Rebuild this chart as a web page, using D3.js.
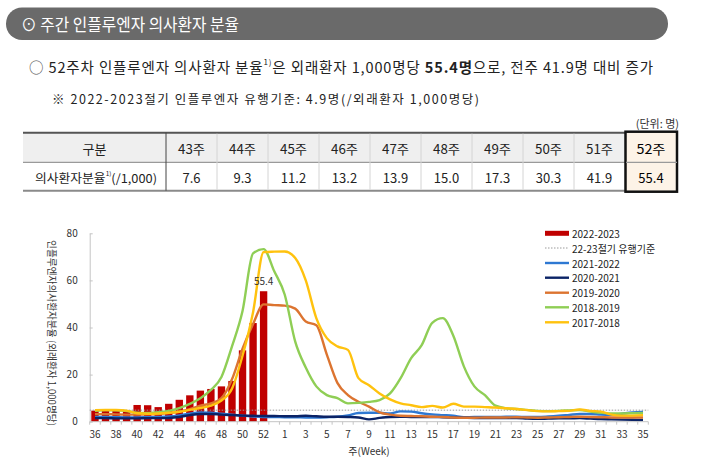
<!DOCTYPE html>
<html>
<head>
<meta charset="utf-8">
<script src="https://cdn.jsdelivr.net/npm/d3@7"></script>
<style>
  html, body { margin: 0; padding: 0; background: #ffffff; }
  svg { display: block; }
  text { font-family: "Noto Sans CJK KR", "Noto Sans", sans-serif; white-space: pre; }
</style>
</head>
<body>
<svg id="chart" width="719" height="472"></svg>
<script>
// ---------------- data ----------------
const weeks = ["36","37","38","39","40","41","42","43","44","45","46","47","48","49","50","51","52","53",
  "1","2","3","4","5","6","7","8","9","10","11","12","13","14","15","16","17","18","19","20",
  "21","22","23","24","25","26","27","28","29","30","31","32","33","34","35"];
const xTickLabels = ["36","38","40","42","44","46","48","50","52","1","3","5","7","9","11","13","15",
  "17","19","21","23","25","27","29","31","33","35"];
const yTicks = [0, 20, 40, 60, 80];

const barWeeks = ["36","37","38","39","40","41","42","43","44","45","46","47","48","49","50","51","52"];
const s2223 = [4.7, 4.9, 4.8, 4.7, 7.1, 7.0, 6.2, 7.6, 9.3, 11.2, 13.2, 13.9, 15.0, 17.3, 30.3, 41.9, 55.4];
const threshold = 4.9;

const s2122 = [2.0,2.0,1.9,1.8,1.8,1.9,2.0,2.2,2.7,3.4,3.9,3.8,3.4,3.0,2.6,2.2,2.0,2.0,
  1.9,1.9,1.8,1.8,1.9,2.1,2.7,3.7,3.8,3.8,3.5,4.4,4.3,3.6,3.1,2.8,2.5,1.9,2.0,2.0,
  2.0,2.1,2.1,2.0,2.0,2.2,2.5,2.9,3.3,3.3,3.0,2.9,3.4,3.9,4.1];
const s2021 = [1.5,1.5,1.4,1.4,1.4,1.5,1.5,1.6,2.0,2.8,3.3,3.3,3.0,2.8,2.6,2.5,2.4,2.4,
  2.3,2.3,2.5,2.3,2.1,2.1,2.0,1.8,1.0,1.6,2.0,2.1,2.0,2.0,2.0,1.9,1.8,1.7,1.6,1.6,
  1.5,1.5,1.5,1.3,1.2,1.3,1.4,1.4,1.5,1.3,1.1,1.0,0.9,0.8,0.7];
const s1920 = [3.2,3.2,3.1,3.0,3.0,3.1,3.3,3.7,4.3,5.3,6.8,7.8,10.0,18.0,31.0,41.5,49.8,49.5,
  49.3,48.0,42.5,41.0,28.5,16.5,11.3,8.5,6.4,4.0,3.0,2.5,2.4,2.3,2.1,2.0,1.8,1.7,1.7,1.8,
  1.8,1.8,1.9,1.8,1.7,1.8,1.9,2.0,2.1,2.0,1.9,1.8,1.8,1.8,1.8];
const s1819 = [4.6,4.9,4.8,4.5,3.8,3.7,4.0,4.6,5.8,7.6,10.0,13.5,19.0,32.0,47.0,71.5,73.3,64.0,
  54.0,34.0,23.0,15.0,11.3,10.0,7.8,8.0,8.4,9.2,12.0,18.5,27.0,32.5,42.0,44.0,36.5,23.5,15.0,11.3,
  6.8,5.7,5.4,5.0,4.6,4.5,4.6,4.8,5.0,4.3,3.8,3.5,3.5,3.6,3.7];
const s1718 = [4.9,5.0,5.0,4.7,3.6,3.4,3.5,3.8,4.2,5.0,5.8,6.8,9.0,14.0,28.0,46.5,72.0,72.2,
  72.3,69.5,60.0,44.0,35.5,32.0,30.5,18.5,15.5,12.0,9.5,7.8,7.0,6.2,6.7,6.0,7.6,6.4,6.4,6.2,
  6.0,5.7,5.4,4.9,4.5,4.4,4.5,4.6,5.2,4.6,4.3,3.0,2.6,2.6,2.8];

const legendLabels = ["2022-2023","22-23절기 유행기준","2021-2022","2020-2021","2019-2020","2018-2019","2017-2018"];

const tableWeeks = ["43주","44주","45주","46주","47주","48주","49주","50주","51주","52주"];
const tableValues = [7.6, 9.3, 11.2, 13.2, 13.9, 15.0, 17.3, 30.3, 41.9, 55.4];

// ---------------- drawing ----------------
const svg = d3.select("#chart");

// header bar
svg.append("rect").attr("x", 6).attr("y", 7.5).attr("width", 662).attr("height", 32.5)
  .attr("rx", 16).attr("fill", "#6a6a6a");
svg.append("text").attr("x", 21).attr("y", 23.7).attr("dominant-baseline", "central")
  .attr("font-size", 16.5).attr("fill", "#ffffff")
  .attr("textLength", 218).attr("lengthAdjust", "spacingAndGlyphs")
  .text("⊙ 주간 인플루엔자 의사환자 분율");

// line 1
const l1 = svg.append("text").attr("x", 29).attr("y", 65.7).attr("dominant-baseline", "central")
  .attr("font-size", 14.5).attr("fill", "#222").attr("textLength", 624).attr("lengthAdjust", "spacing");
l1.append("tspan").attr("fill", "#555").text("○");
l1.append("tspan").text(" 52주차 인플루엔자 의사환자 분율");
l1.append("tspan").attr("font-size", 8).attr("dy", -5).text("1)");
l1.append("tspan").attr("dy", 5).text("은 외래환자 1,000명당 ");
l1.append("tspan").attr("font-weight", "bold").text("55.4명");
l1.append("tspan").text("으로, 전주 41.9명 대비 증가");

// line 2
svg.append("text").attr("x", 52).attr("y", 98.5).attr("dominant-baseline", "central")
  .attr("font-size", 12.5).attr("fill", "#222").attr("textLength", 427).attr("lengthAdjust", "spacing")
  .text("※ 2022-2023절기 인플루엔자 유행기준: 4.9명(/외래환자 1,000명당)");

// unit
svg.append("text").attr("x", 679).attr("y", 123).attr("dominant-baseline", "central")
  .attr("text-anchor", "end").attr("font-size", 11).attr("fill", "#333").text("(단위: 명)");

// ---------------- table ----------------
const tLeft = 23, tFirst = 166, tColW = 51, tRight = 677;
const tTop = 132.7, tMid = 162.3, tBot = 190.7;
const tbl = svg.append("g");
tbl.append("rect").attr("x", tLeft).attr("y", tTop).attr("width", tFirst + 9 * tColW - tLeft)
  .attr("height", tMid - tTop).attr("fill", "#efefef");
tbl.append("line").attr("x1", tLeft).attr("x2", tRight).attr("y1", tTop).attr("y2", tTop)
  .attr("stroke", "#555").attr("stroke-width", 2);
tbl.append("line").attr("x1", tLeft).attr("x2", tRight).attr("y1", tMid).attr("y2", tMid)
  .attr("stroke", "#9a9a9a").attr("stroke-width", 1.3);
tbl.append("line").attr("x1", tLeft).attr("x2", tRight).attr("y1", tBot).attr("y2", tBot)
  .attr("stroke", "#8a8a8a").attr("stroke-width", 2);
tbl.append("line").attr("x1", tFirst).attr("x2", tFirst).attr("y1", tTop).attr("y2", tBot)
  .attr("stroke", "#444").attr("stroke-width", 1);
d3.range(1, 9).forEach(k => {
  tbl.append("line").attr("x1", tFirst + k * tColW).attr("x2", tFirst + k * tColW)
    .attr("y1", tTop + 1).attr("y2", tBot - 1).attr("stroke", "#d4d4d4").attr("stroke-width", 1);
});
// highlighted column 52
const hx = tFirst + 9 * tColW;
tbl.append("rect").attr("x", hx + 0.5).attr("y", tTop - 1).attr("width", tRight - hx - 0.5)
  .attr("height", tBot - tTop + 2).attr("fill", "#fdf3e7").attr("stroke", "#111").attr("stroke-width", 2.5);
tbl.append("line").attr("x1", hx + 1).attr("x2", tRight).attr("y1", tMid).attr("y2", tMid)
  .attr("stroke", "#9a9a9a").attr("stroke-width", 1.3);

const hy = (tTop + tMid) / 2 + 0.5, dy2 = (tMid + tBot) / 2 + 0.5;
tbl.append("text").attr("x", (tLeft + tFirst) / 2).attr("y", hy).attr("text-anchor", "middle")
  .attr("dominant-baseline", "central").attr("font-size", 13).attr("fill", "#222").text("구분");
const rl = tbl.append("text").attr("x", 35).attr("y", dy2).attr("dominant-baseline", "central")
  .attr("font-size", 12).attr("fill", "#222").attr("textLength", 122).attr("lengthAdjust", "spacingAndGlyphs");
rl.append("tspan").text("의사환자분율");
rl.append("tspan").attr("font-size", 6).attr("dy", -4).text("1)");
rl.append("tspan").attr("dy", 4).text("(/1,000)");

tableWeeks.forEach((w, i) => {
  const cx = i < 9 ? tFirst + tColW * (i + 0.5) : (hx + tRight) / 2;
  tbl.append("text").attr("x", cx).attr("y", hy).attr("text-anchor", "middle")
    .attr("dominant-baseline", "central").attr("font-size", 13).attr("fill", i < 9 ? "#222" : "#000")
    .attr("textLength", i < 9 ? 27 : 29).attr("lengthAdjust", "spacingAndGlyphs").text(w);
  tbl.append("text").attr("x", cx).attr("y", dy2).attr("text-anchor", "middle")
    .attr("dominant-baseline", "central").attr("font-size", 13).attr("fill", i < 9 ? "#222" : "#000")
    .text(tableValues[i].toFixed(1));
});

// ---------------- chart ----------------
const x = d3.scaleBand().domain(weeks).range([89.7, 648.3]).paddingInner(0.3).paddingOuter(0.15);
const cx = w => x(w) + x.bandwidth() / 2;
const y = d3.scaleLinear().domain([0, 80]).range([421.7, 233.3]);
const chart = svg.append("g");

// y axis
const yAxis = d3.axisLeft(y).tickValues(yTicks).tickSizeInner(-3).tickSizeOuter(0).tickPadding(12);
const yg = chart.append("g").attr("transform", "translate(89.7,0)").call(yAxis);
yg.select(".domain").attr("stroke", "#c4c4c4");
yg.selectAll(".tick line").attr("stroke", "#c4c4c4");
yg.selectAll(".tick text").attr("font-size", 10).attr("fill", "#333")
  .attr("font-family", "\"Noto Sans CJK KR\", sans-serif");

// bars
chart.selectAll("rect.bar").data(barWeeks).join("rect").attr("class", "bar")
  .attr("x", d => x(d)).attr("width", x.bandwidth())
  .attr("y", (d, i) => y(s2223[i])).attr("height", (d, i) => y(0) - y(s2223[i]))
  .attr("fill", "#c00000");

// threshold
chart.append("line").attr("x1", 89.7).attr("x2", 648.3).attr("y1", y(threshold)).attr("y2", y(threshold))
  .attr("stroke", "#9a9a9a").attr("stroke-width", 1).attr("stroke-dasharray", "1.5,1.5");

// lines
const series = [
  { data: s2122, color: "#2e78d2" },
  { data: s2021, color: "#0b2366" },
  { data: s1920, color: "#dc7430" },
  { data: s1819, color: "#8fce55" },
  { data: s1718, color: "#ffc20e" }
];
const lineGen = d3.line().x((d, i) => cx(weeks[i])).y(d => y(d)).curve(d3.curveMonotoneX);
series.forEach(s => {
  chart.append("path").datum(s.data).attr("d", lineGen).attr("fill", "none")
    .attr("stroke", s.color).attr("stroke-width", 2.4).attr("stroke-linejoin", "round");
});

// x axis
const xg = chart.append("g").attr("transform", `translate(0,${y(0)})`);
xg.append("line").attr("x1", 89.7).attr("x2", 648.3).attr("y1", 0).attr("y2", 0).attr("stroke", "#c4c4c4");
const step = x.step();
d3.range(weeks.length + 1).forEach(i => {
  const bx = 89.7 + i * step;
  xg.append("line").attr("x1", bx).attr("x2", bx).attr("y1", 0).attr("y2", 3).attr("stroke", "#c4c4c4");
});
xg.selectAll("text.xl").data(xTickLabels).join("text").attr("class", "xl")
  .attr("x", d => cx(d)).attr("y", 11.5).attr("text-anchor", "middle").attr("dominant-baseline", "central")
  .attr("font-size", 10).attr("fill", "#333").text(d => d);

// bar label
chart.append("text").attr("x", cx("52")).attr("y", 280).attr("text-anchor", "middle")
  .attr("dominant-baseline", "central").attr("font-size", 10).attr("fill", "#333")
  .text(s2223[s2223.length - 1].toFixed(1));

// axis titles
chart.append("text").attr("x", 369).attr("y", 450).attr("text-anchor", "middle")
  .attr("dominant-baseline", "central").attr("font-size", 10).attr("fill", "#333").text("주(Week)");
chart.append("text").attr("transform", "translate(52,333) rotate(90)").attr("text-anchor", "middle")
  .attr("dominant-baseline", "central").attr("font-size", 10).attr("fill", "#333")
  .attr("textLength", 186).attr("lengthAdjust", "spacingAndGlyphs")
  .text("인플루엔자의사환자분율 (외래환자 1,000명당)");

// legend
const legColors = ["#c00000", "#9a9a9a", "#2e78d2", "#0b2366", "#dc7430", "#8fce55", "#ffc20e"];
const legY = [233.3, 248, 263, 277.7, 292.7, 307.3, 322.3];
const lg = chart.append("g");
legendLabels.forEach((lab, i) => {
  if (i === 0) {
    lg.append("rect").attr("x", 545).attr("y", legY[i] - 2.5).attr("width", 24).attr("height", 5).attr("fill", legColors[i]);
  } else if (i === 1) {
    lg.append("line").attr("x1", 545).attr("x2", 569).attr("y1", legY[i]).attr("y2", legY[i])
      .attr("stroke", legColors[i]).attr("stroke-width", 1).attr("stroke-dasharray", "1.5,1.5");
  } else {
    lg.append("line").attr("x1", 545).attr("x2", 569).attr("y1", legY[i]).attr("y2", legY[i])
      .attr("stroke", legColors[i]).attr("stroke-width", 2.4);
  }
  lg.append("text").attr("x", 572).attr("y", legY[i]).attr("dominant-baseline", "central")
    .attr("font-size", 10).attr("fill", "#222").text(lab);
});
</script>
</body>
</html>
